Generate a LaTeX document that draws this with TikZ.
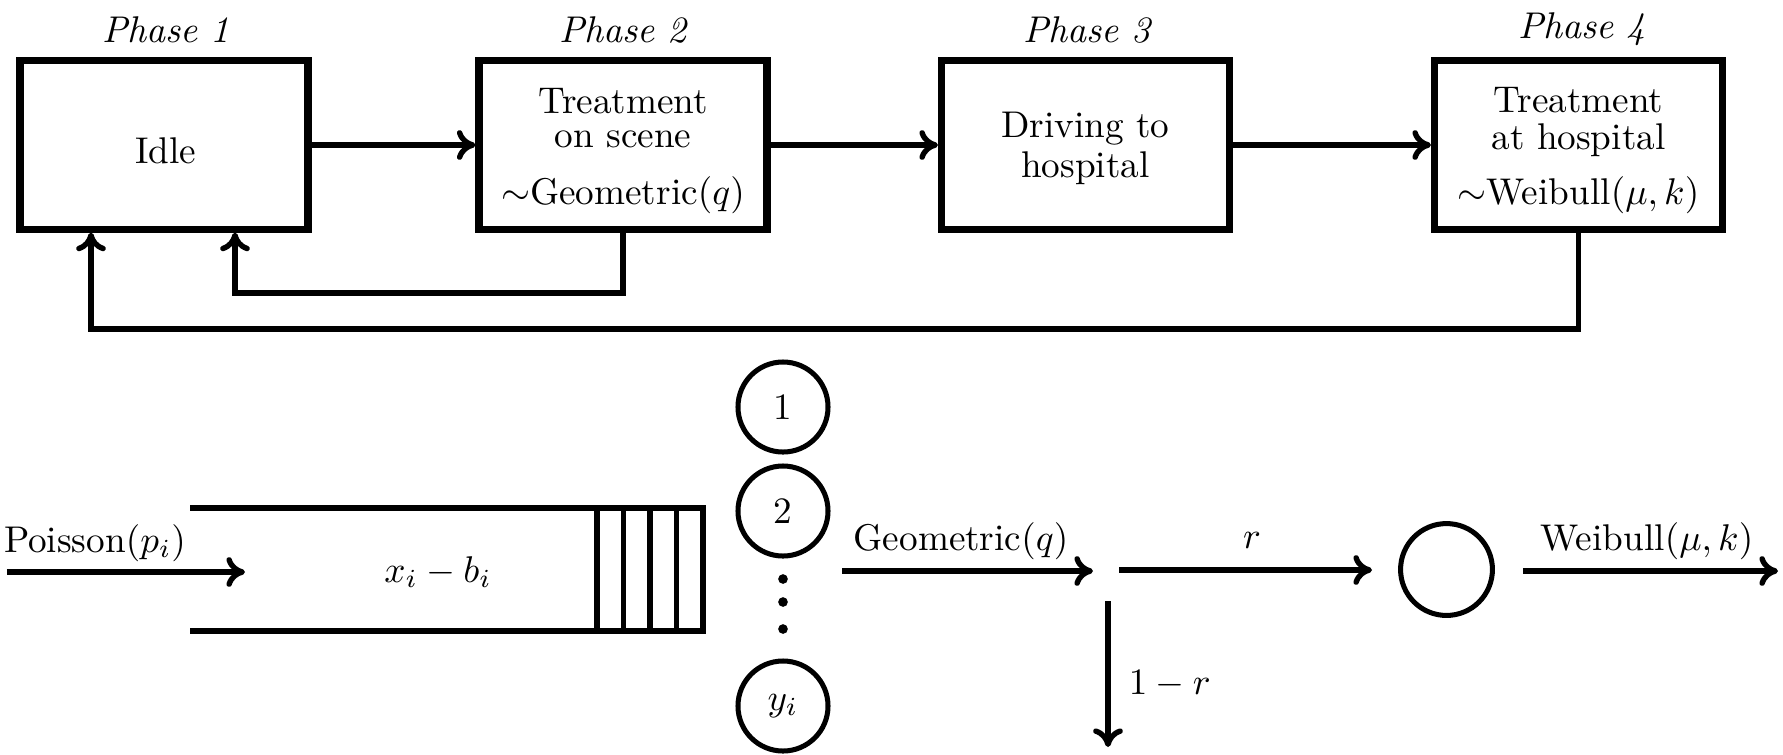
\documentclass[tikz,border=0pt]{standalone}
\usetikzlibrary{arrows.meta}
\begin{document}
\begin{tikzpicture}[x=0.2688pt,y=-0.2688pt,
  phasebox/.style={draw, line width=1.9pt, minimum width=77.4pt, minimum height=45.2pt, inner sep=0pt},
  boxtext/.style={align=center, inner sep=0pt},
  phaselabel/.style={anchor=base, inner sep=0pt, font=\itshape},
  arr/.style={line width=1.45pt, -{To[length=5pt,width=8pt]}},
  conn/.style={line width=1.45pt},
  srvc/.style={draw, circle, line width=1.35pt, minimum size=24.2pt, inner sep=0pt},
  lbl/.style={anchor=base, inner sep=0pt}]
\useasboundingbox (0,0) rectangle (1783,754);
% top row: phases
\node[phasebox] (b1) at (164,145) {};
\node[phasebox] (b2) at (623,145) {};
\node[phasebox] (b3) at (1085.5,145) {};
\node[phasebox] (b4) at (1578.5,145) {};
\node[boxtext] (t1) at (166,151) {Idle};
\node[boxtext] (t2) at (623,151) {Treatment\\[-2.6pt]on scene\\[3.3pt]$\sim$Geometric$(q)$};
\node[boxtext] (t3) at (1085.5,148.7) {Driving to\\[-1.25pt]hospital};
\node[boxtext] (t4) at (1578.5,151) {Treatment\\[-2.05pt]at hospital\\[2.8pt]$\sim$Weibull$(\mu,k)$};
\node[phaselabel] (p1) at (166,42) {Phase 1};
\node[phaselabel] (p2) at (623,42) {Phase 2};
\node[phaselabel] (p3) at (1087,42) {Phase 3};
\node[phaselabel] (p4) at (1582,38) {Phase 4};
\draw[arr] (b1) -- (b2);
\draw[arr] (b2) -- (b3);
\draw[arr] (b3) -- (b4);
\coordinate (k1) at (235,293);
\coordinate (k2) at (91,329);
\draw[arr] (b2.south) |- (k1) -- (k1 |- b1.south);
\draw[arr] (b4.south) |- (k2) -- (k2 |- b1.south);
% bottom row: queue
\coordinate (qa) at (190,508);
\coordinate (qb) at (703,508);
\coordinate (qc) at (703,631);
\coordinate (qd) at (190,631);
\draw[conn, line join=miter] (qa) -- (qb) -- (qc) -- (qd);
\foreach \x in {597,623.5,650,676.5} \draw[conn] (\x,508) -- (\x,631);
\node[lbl] (xb) at (438,582) {$x_i - b_i$};
\coordinate (pin) at (7,572);
\coordinate (pend) at (245,572);
\draw[arr] (pin) -- (pend);
\node[lbl] (pl) at (95,552) {Poisson$(p_i)$};
% servers
\node[srvc] (s1) at (783,407) {1};
\node[srvc] (s2) at (783,511) {2};
\node[srvc] (sy) at (783,706) {$y_i$};
\foreach \y in {579,602,629} \fill (783,\y) circle[radius=1.3pt];
% after service
\coordinate (g0) at (842,571);
\coordinate (g1) at (1093,571);
\draw[arr] (g0) -- (g1);
\node[lbl] (gl) at (961,550) {Geometric$(q)$};
\coordinate (r0) at (1119,570);
\node[srvc, minimum size=24.7pt] (srv) at (1446.5,569.5) {};
\draw[arr, shorten >=7pt] (r0) -- (r0 -| srv.west);
\node[lbl] (rl) at (1252,548) {$r$};
\coordinate (d0) at (1108,601);
\coordinate (d1) at (1108,747);
\draw[arr] (d0) -- (d1);
\node[anchor=west, inner sep=0pt] (dl) at (1128,684) {$1-r$};
\coordinate (w1) at (1778,571);
\draw[arr, shorten <=7.5pt] (srv.east |- w1) -- (w1);
\node[lbl] (wl) at (1647,550) {Weibull$(\mu,k)$};
\end{tikzpicture}
\end{document}
